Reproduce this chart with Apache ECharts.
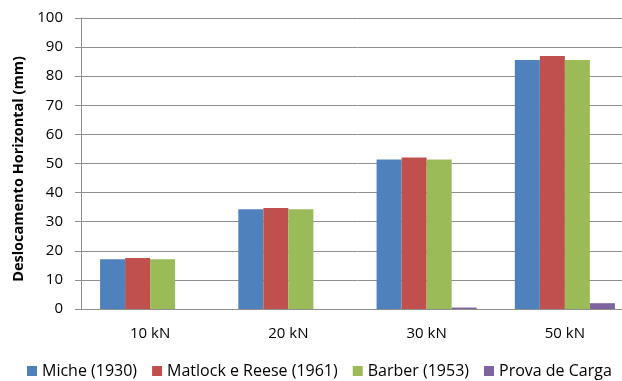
<!DOCTYPE html>
<html>
<head>
<meta charset="utf-8">
<script src="https://cdn.jsdelivr.net/npm/echarts@6/dist/echarts.min.js"></script>
<style>
  html, body { margin: 0; padding: 0; background: #fff; overflow: hidden; }
  /* the plot area runs slightly past the right edge of the view */
  #chart { width: 640px; height: 381px; }
</style>
</head>
<body>
<div id="chart"></div>
<script>
// Horizontal displacement by load and method
const categories = ['10 kN', '20 kN', '30 kN', '50 kN'];
const miche = [17.1, 34.3, 51.4, 85.6];
const matlockReese = [17.5, 34.7, 52.1, 86.9];
const barber = [17.1, 34.3, 51.4, 85.6];
const provaDeCarga = [0, 0, 0.5, 2.0];
const yTicks = { min: 0, max: 100, interval: 10 };

const seriesDefs = [
  { name: 'Miche (1930)', data: miche, color: '#4F81BD' },
  { name: 'Matlock e Reese (1961)', data: matlockReese, color: '#C0504D' },
  { name: 'Barber (1953)', data: barber, color: '#9BBB59' },
  { name: 'Prova de Carga', data: provaDeCarga, color: '#8064A2' }
];

const font = '"Open Sans", "Noto Sans", sans-serif';
const gray = '#8e8e8e';

const chart = echarts.init(document.getElementById('chart'), null, { renderer: 'canvas' });
chart.setOption({
  animation: false,
  backgroundColor: '#ffffff',
  textStyle: { fontFamily: font },
  grid: { left: 81, top: 18, width: 553, bottom: 72, containLabel: false },
  legend: {
    top: 363,
    left: 27,
    padding: 0,
    itemWidth: 10,
    itemHeight: 10,
    itemGap: 15,
    icon: 'rect',
    textStyle: { fontFamily: font, fontSize: 16, color: '#000' },
    data: seriesDefs.map(s => s.name)
  },
  xAxis: {
    type: 'category',
    data: categories,
    axisLine: { lineStyle: { color: gray, width: 1 } },
    axisTick: { show: false },
    axisLabel: { color: '#000', fontSize: 15, fontFamily: font, margin: 17 }
  },
  yAxis: {
    type: 'value',
    min: yTicks.min,
    max: yTicks.max,
    interval: yTicks.interval,
    name: 'Deslocamento Horizontal (mm)',
    nameLocation: 'middle',
    nameGap: 52,
    nameTextStyle: { color: '#000', fontSize: 14.5, fontWeight: 'bold', fontFamily: font, padding: [0, 11, 0, 0] },
    axisLine: { show: true, lineStyle: { color: gray, width: 1 } },
    axisTick: { show: true, inside: false, length: 6, lineStyle: { color: gray } },
    axisLabel: { color: '#000', fontSize: 15, fontFamily: font, margin: 18 },
    splitLine: { lineStyle: { color: gray, width: 1 } }
  },
  series: seriesDefs.map(s => ({
    name: s.name,
    type: 'bar',
    data: s.data,
    barGap: '0%',
    barCategoryGap: '27.6%',
    itemStyle: { color: s.color }
  }))
});
</script>
</body>
</html>
